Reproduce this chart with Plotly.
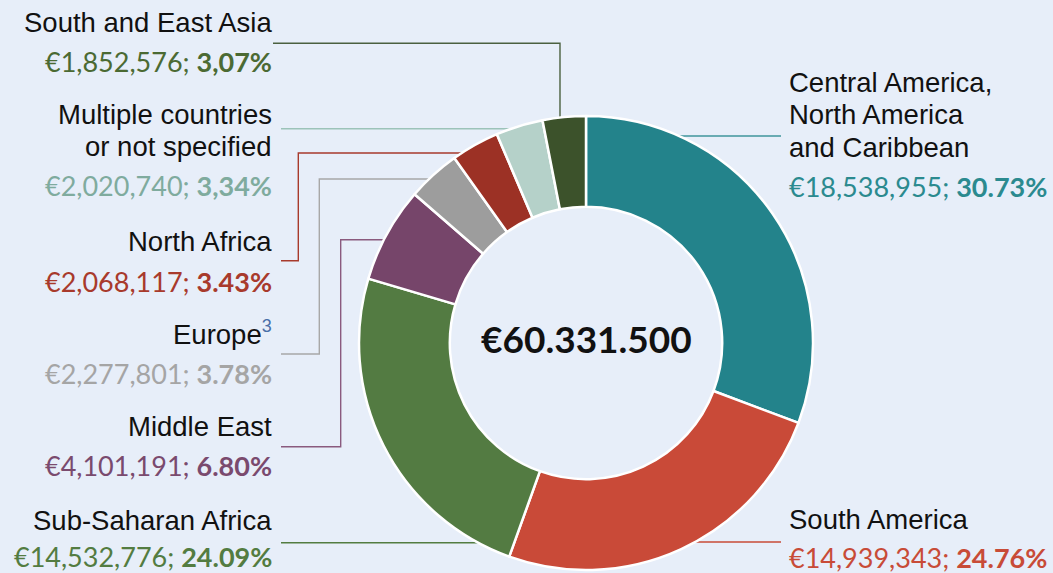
import math
import plotly.graph_objects as go

# ---------------- data ----------------
regions = [
    "Central America, North America and Caribbean",
    "South America",
    "Sub-Saharan Africa",
    "Middle East",
    "Europe",
    "North Africa",
    "Multiple countries or not specified",
    "South and East Asia",
]
amounts = [18538955, 14939343, 14532776, 4101191, 2277801, 2068117, 2020740, 1852576]
pct_labels = ["30.73%", "24.76%", "24.09%", "6.80%", "3.78%", "3.43%", "3,34%", "3,07%"]
total_label = "€60.331.500"

slice_colors = ["#23838b", "#c94a38", "#537b42", "#76456a", "#9d9d9d", "#9c3125", "#b5d1c9", "#3c522b"]
text_colors = ["#2b8a8f", "#c84b37", "#537c41", "#7a4a6e", "#a5a5a5", "#a83a2c", "#7fab9e", "#4b6a33"]
line_colors = ["#3f959b", "#c84b37", "#537c41", "#8a5a7e", "#a8a8a8", "#a83a2c", "#9cc3b9", "#4b6040"]

# ---------------- layout geometry (pixels) ----------------
W, H = 1053, 573
CX, CY, R = 586, 343, 227
HOLE = 0.6
BG = "#e7eef9"

def px(x):
    return x / W

def py(y):
    return 1 - y / H

def ring_x(y, side):
    d = math.sqrt(max(R * R - (y - CY) ** 2, 0))
    return CX + side * d

def ring_y_top(x):
    return CY - math.sqrt(max(R * R - (x - CX) ** 2, 0))

fig = go.Figure()
fig.add_trace(go.Pie(
    labels=regions,
    values=amounts,
    sort=False,
    direction="clockwise",
    rotation=0,
    hole=HOLE,
    textinfo="none",
    hoverinfo="label+value+percent",
    marker=dict(colors=slice_colors, line=dict(color="white", width=2.5)),
    domain=dict(x=[px(CX - R), px(CX + R)], y=[(H - CY - R) / H, (H - CY + R) / H]),
    showlegend=False,
))

LABEL_FONT = "Liberation Sans, Arial, sans-serif"
VALUE_FONT = "Lato, Calibri, sans-serif"
LS = 27.5
VS = 27

left_x = 273
right_x = 788
label_specs = [
    (7, -1, [("South and East Asia", 22.3, "name"), (None, 62, "value")]),
    (6, -1, [("Multiple countries", 115, "name"), ("or not specified", 146.5, "name"), (None, 185.5, "value")]),
    (5, -1, [("North Africa", 241.7, "name"), (None, 281, "value")]),
    (4, -1, [("Europe<sup><span style='color:#4a6fa8;font-size:18px'>3</span></sup>", 333, "name"), (None, 373, "value")]),
    (3, -1, [("Middle East", 426, "name"), (None, 465, "value")]),
    (2, -1, [("Sub-Saharan Africa", 520, "name"), (None, 556.5, "value")]),
    (0, 1, [("Central America,", 82.5, "name"), ("North America", 114.5, "name"), ("and Caribbean", 147, "name"), (None, 186, "value")]),
    (1, 1, [("South America", 519.5, "name"), (None, 557.5, "value")]),
]

annotations = []
for idx, side, lines in label_specs:
    for text, yc, kind in lines:
        if kind == "name":
            t = text
            font = dict(family=LABEL_FONT, size=LS, color="#111111")
        else:
            t = f"€{amounts[idx]:,}; <b>{pct_labels[idx]}</b>"
            font = dict(family=VALUE_FONT, size=VS, color=text_colors[idx])
        annotations.append(dict(
            x=px(left_x if side < 0 else right_x), y=py(yc),
            xref="paper", yref="paper",
            xanchor="right" if side < 0 else "left", yanchor="middle",
            text=t, showarrow=False, font=font, borderpad=0,
        ))

annotations.append(dict(
    x=px(CX), y=py(CY - 5), xref="paper", yref="paper",
    xanchor="center", yanchor="middle", showarrow=False,
    text=f"<b>{total_label}</b>",
    font=dict(family=VALUE_FONT, size=37, color="#111111"),
))

leader = [
    (7, [(273, 43.3), (560, 43.3)], "vert"),
    (6, [(281, 128.7)], "horiz"),
    (5, [(281, 260.7), (298.3, 260.7), (298.3, 153)], "horiz"),
    (4, [(281, 354), (319.3, 354), (319.3, 179)], "horiz"),
    (3, [(281, 446.7), (340.7, 446.7), (340.7, 239.7)], "horiz"),
    (2, [(281, 542.7)], "horiz"),
    (0, [(781, 136)], "horiz_r"),
    (1, [(781, 542)], "horiz_r"),
]
shapes = []
for idx, pts, mode in leader:
    lx, ly = pts[-1]
    if mode == "vert":
        end = (lx, ring_y_top(lx))
    elif mode == "horiz":
        end = (ring_x(ly, -1), ly)
    else:
        end = (ring_x(ly, 1), ly)
    allpts = pts + [end]
    path = "M " + " L ".join(f"{px(x):.5f},{py(y):.5f}" for x, y in allpts)
    shapes.append(dict(type="path", xref="paper", yref="paper", path=path,
                       line=dict(color=line_colors[idx], width=1.4), layer="below"))

fig.update_layout(
    width=W, height=H,
    margin=dict(l=0, r=0, t=0, b=0),
    paper_bgcolor=BG, plot_bgcolor=BG,
    annotations=annotations,
    shapes=shapes,
)

fig.write_html(
    "out.html",
    config={"displayModeBar": False},
    post_script="document.body.style.margin='0';document.body.style.padding='0';"
                "document.body.style.overflow='hidden';"
                "document.body.style.background='" + BG + "';",
)
